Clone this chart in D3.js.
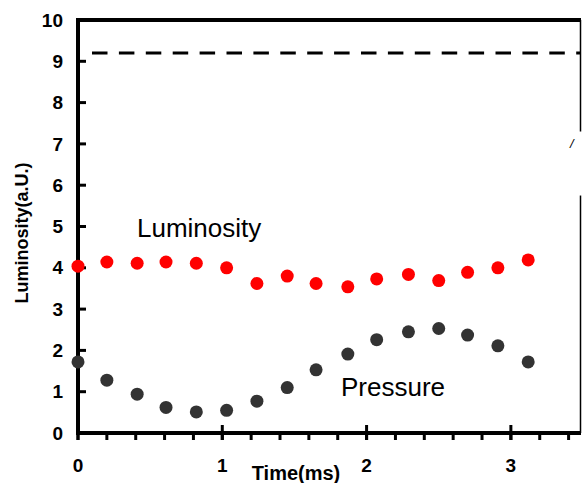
<!DOCTYPE html>
<html>
<head>
<meta charset="utf-8">
<script src="https://cdn.jsdelivr.net/npm/d3@7"></script>
<style>
  body { margin: 0; background: #fff; }
  svg { display: block; font-family: "Liberation Sans", Arial, sans-serif; }
</style>
</head>
<body>
<div id="chart"></div>
<script>
// values
var times = [0, 0.20, 0.41, 0.61, 0.82, 1.03, 1.24, 1.45, 1.65, 1.87, 2.07, 2.29, 2.50, 2.70, 2.91, 3.12];
var luminosity = [4.04, 4.14, 4.11, 4.14, 4.11, 4.00, 3.62, 3.80, 3.62, 3.54, 3.73, 3.84, 3.69, 3.89, 4.00, 4.19];
var pressure = [1.72, 1.28, 0.94, 0.62, 0.51, 0.55, 0.77, 1.10, 1.53, 1.91, 2.26, 2.45, 2.53, 2.37, 2.11, 1.72];
var xTicks = [0, 1, 2, 3];
var xMinor = d3.range(0, 3.41, 0.2);
var yTicks = d3.range(0, 11, 1);
var refLevel = 9.2;

var width = 582, height = 483;

var x = d3.scaleLinear().domain([0, 3.486]).range([78, 581]);
var y = d3.scaleLinear().domain([0, 10]).range([433, 20]);

var svg = d3.select("#chart").append("svg")
  .attr("width", width)
  .attr("height", height);

// frame: top border and thin right border
svg.append("line")
  .attr("x1", x(0)).attr("x2", x.range()[1])
  .attr("y1", y(10)).attr("y2", y(10))
  .attr("stroke", "#000").attr("stroke-width", 4);
svg.append("line")
  .attr("x1", x.range()[1] - 0.5).attr("x2", x.range()[1] - 0.5)
  .attr("y1", y(10)).attr("y2", y(0))
  .attr("stroke", "#000").attr("stroke-width", 1.5);
// something white covers part of the right border
svg.append("rect")
  .attr("x", x(3.3)).attr("y", y(7.3))
  .attr("width", 40).attr("height", y(5.75) - y(7.3))
  .attr("fill", "#fff");
svg.append("text")
  .attr("x", 570).attr("y", y(6.9))
  .attr("font-size", 13)
  .attr("font-style", "italic")
  .text("/");

// dashed reference line
svg.append("line")
  .attr("x1", 92).attr("x2", x.range()[1])
  .attr("y1", y(refLevel)).attr("y2", y(refLevel))
  .attr("stroke", "#000").attr("stroke-width", 3)
  .attr("stroke-dasharray", "15.5,11.4");

// y axis
var gy = svg.append("g");
gy.selectAll("line.tick").data(yTicks).enter().append("line")
  .attr("class", "tick")
  .attr("x1", x(0)).attr("x2", x(0) + 8)
  .attr("y1", function(d) { return y(d); })
  .attr("y2", function(d) { return y(d); })
  .attr("stroke", "#000").attr("stroke-width", 3);
gy.selectAll("text").data(yTicks).enter().append("text")
  .attr("x", 63)
  .attr("y", function(d) { return y(d); })
  .attr("dy", "0.35em")
  .attr("text-anchor", "end")
  .attr("font-size", 19).attr("font-weight", "bold")
  .text(function(d) { return d; });
gy.append("line")
  .attr("x1", x(0)).attr("x2", x(0))
  .attr("y1", y(10) - 2).attr("y2", y(0) + 2)
  .attr("stroke", "#000").attr("stroke-width", 4);

// x axis
var gx = svg.append("g");
gx.selectAll("line.minor").data(xMinor).enter().append("line")
  .attr("class", "minor")
  .attr("x1", function(d) { return x(d); })
  .attr("x2", function(d) { return x(d); })
  .attr("y1", y(0)).attr("y2", y(0) + 7)
  .attr("stroke", "#000").attr("stroke-width", 3);
gx.selectAll("line.major").data(xTicks).enter().append("line")
  .attr("class", "major")
  .attr("x1", function(d) { return x(d); })
  .attr("x2", function(d) { return x(d); })
  .attr("y1", y(0) - 8).attr("y2", y(0) + 7)
  .attr("stroke", "#000").attr("stroke-width", 3);
gx.selectAll("text").data(xTicks).enter().append("text")
  .attr("x", function(d) { return x(d); })
  .attr("y", 472)
  .attr("text-anchor", "middle")
  .attr("font-size", 19).attr("font-weight", "bold")
  .text(function(d) { return d; });
gx.append("line")
  .attr("x1", x(0) - 2).attr("x2", x.range()[1])
  .attr("y1", y(0)).attr("y2", y(0))
  .attr("stroke", "#000").attr("stroke-width", 4);

// axis titles
svg.append("text")
  .attr("x", 296).attr("y", 480)
  .attr("text-anchor", "middle")
  .attr("font-size", 20).attr("font-weight", "bold")
  .text("Time(ms)");
svg.append("text")
  .attr("transform", "translate(28,233) rotate(-90)")
  .attr("text-anchor", "middle")
  .attr("font-size", 18).attr("font-weight", "bold")
  .text("Luminosity(a.U.)");

// points
svg.append("g").selectAll("circle").data(times).enter().append("circle")
  .attr("cx", function(d) { return x(d); })
  .attr("cy", function(d, i) { return y(luminosity[i]); })
  .attr("r", 6.5)
  .attr("fill", "#ff0000");
svg.append("g").selectAll("circle").data(times).enter().append("circle")
  .attr("cx", function(d) { return x(d); })
  .attr("cy", function(d, i) { return y(pressure[i]); })
  .attr("r", 6.5)
  .attr("fill", "#333333");

// series labels
svg.append("text")
  .attr("x", 137).attr("y", 237)
  .attr("font-size", 26)
  .text("Luminosity");
svg.append("text")
  .attr("x", 341).attr("y", 396)
  .attr("font-size", 26)
  .text("Pressure");
</script>
</body>
</html>
